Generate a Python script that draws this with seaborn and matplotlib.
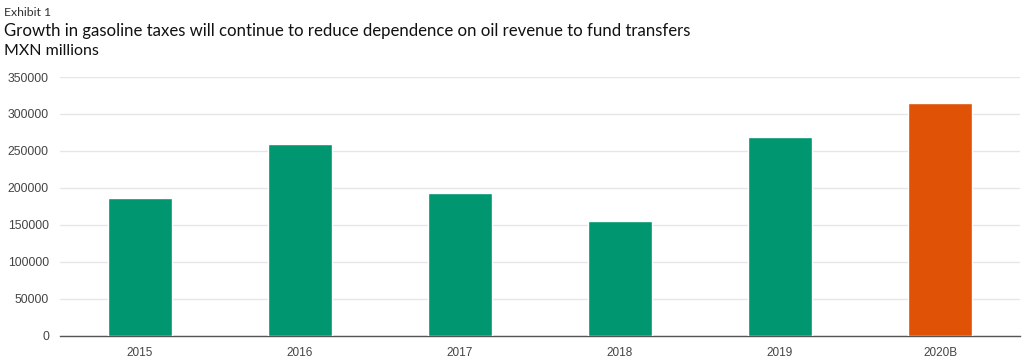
import matplotlib
matplotlib.use("Agg")
import matplotlib.pyplot as plt
import seaborn as sns
import pandas as pd

years = ["2015", "2016", "2017", "2018", "2019", "2020B"]
values = [186500, 259500, 193500, 154500, 268500, 314500]
colors = ["#00966F", "#00966F", "#00966F", "#00966F", "#00966F", "#E05206"]
yticks = [0, 50000, 100000, 150000, 200000, 250000, 300000, 350000]

sns.set_theme(style="white")
plt.rcParams['font.family'] = ['Liberation Sans', 'DejaVu Sans']

df = pd.DataFrame({"year": years, "value": values})

fig = plt.figure(figsize=(10.24, 3.59), dpi=100)
ax = fig.add_axes([60/1024, 1 - 335.5/359, 960/1024, (335.5-77)/359])

sns.barplot(data=df, x="year", y="value", hue="year", palette=colors,
            legend=False, width=0.4, saturation=1, ax=ax, zorder=3)

ax.set_ylim(0, 350000)
ax.set_xlim(-0.5, 5.5)
ax.set_yticks(yticks)
ax.set_yticklabels([str(v) for v in yticks])
ax.yaxis.grid(True, color="#e6e6e6", linewidth=1, zorder=0)
ax.xaxis.grid(False)
for s in ["top", "right", "left"]:
    ax.spines[s].set_visible(False)
ax.spines["bottom"].set_color("#555555")
ax.spines["bottom"].set_linewidth(1)
ax.tick_params(axis="y", length=0, labelsize=8.8, labelcolor="#444444", pad=8)
ax.tick_params(axis="x", length=0, labelsize=8.5, labelcolor="#444444", pad=8)
ax.set_xlabel("")
ax.set_ylabel("")

fig.text(4/1024, 1 - 12/359, "Exhibit 1", fontsize=8.8, color="#333333",
         family=["Lato", "DejaVu Sans"], va="center", ha="left")
fig.text(4/1024, 1 - 31/359, "Growth in gasoline taxes will continue to reduce dependence on oil revenue to fund transfers",
         fontsize=12.05, color="#111111", family=["Lato", "DejaVu Sans"], va="center", ha="left")
fig.text(4/1024, 1 - 51/359, "MXN millions", fontsize=11.5, color="#111111",
         family=["Lato", "DejaVu Sans"], va="center", ha="left")

fig.savefig("out.png", dpi=100)
